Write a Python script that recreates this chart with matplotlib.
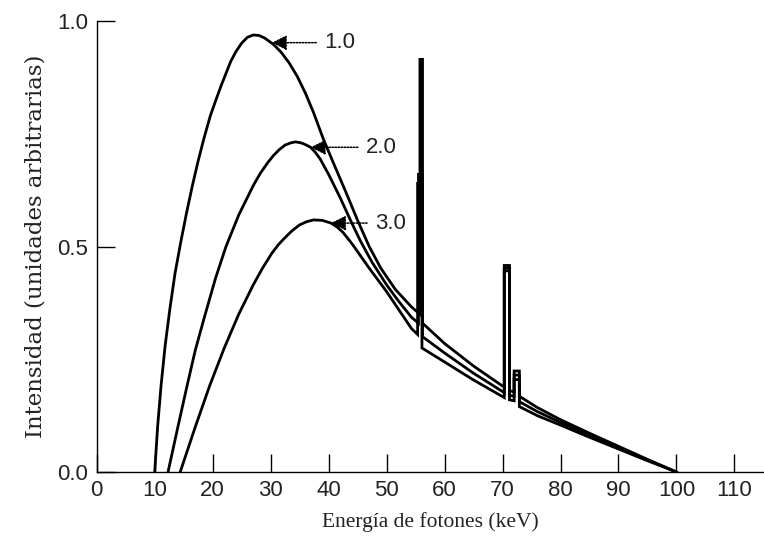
import matplotlib.pyplot as plt

# X-ray spectra (100 kVp) for three aluminium filtrations, with the K lines
energy_1 = [10.0, 10.5, 11.1, 11.8, 12.6, 13.5, 14.5, 15.5, 16.5, 17.5, 18.5, 19.6,
            20.7, 21.5, 22.3, 23.1, 24.0, 25.0, 26.0, 27.0, 28.0, 29.0, 30.5,
            31.8, 33.2, 34.6, 36.0, 37.4, 39.1, 41.0, 43.0, 45.0, 47.0, 49.0,
            51.5, 54.3,
            55.75, 55.75, 56.2, 56.2, 60.0, 65.0,
            70.3, 70.3, 71.2, 71.2, 72.0, 72.0, 72.9, 72.9,
            76.0, 80.0, 85.0, 90.0, 95.0, 100.0]
inten_1 = [0.0, 0.100, 0.192, 0.280, 0.360, 0.440, 0.510, 0.575, 0.635, 0.690, 0.740, 0.790,
           0.830, 0.858, 0.884, 0.910, 0.932, 0.951, 0.964, 0.969, 0.968, 0.962, 0.948,
           0.931, 0.907, 0.877, 0.840, 0.797, 0.738, 0.680, 0.620, 0.558, 0.500, 0.452,
           0.405, 0.366,
           0.350, 0.915, 0.915, 0.330, 0.285, 0.235,
           0.188, 0.458, 0.458, 0.180, 0.178, 0.224, 0.224, 0.168,
           0.143, 0.116, 0.086, 0.057, 0.028, 0.0]

energy_2 = [12.3, 14.0, 15.6, 17.0, 18.5, 20.5, 22.3, 24.5, 27.0, 28.2, 29.5, 30.5,
            31.5, 32.5, 33.5, 34.3, 35.2, 36.0, 36.9, 37.7, 38.5, 40.0, 42.0, 44.0,
            45.5, 47.5, 50.0, 52.0, 54.3,
            55.5, 55.5, 56.2, 56.2, 60.0, 65.0,
            70.3, 70.3, 71.2, 71.2, 72.0, 72.0, 72.9, 72.9,
            76.0, 80.0, 85.0, 90.0, 95.0, 100.0]
inten_2 = [0.0, 0.100, 0.192, 0.270, 0.340, 0.430, 0.500, 0.570, 0.635, 0.662, 0.686, 0.702,
           0.715, 0.725, 0.730, 0.732, 0.730, 0.726, 0.720, 0.709, 0.695, 0.660, 0.608, 0.552,
           0.512, 0.465, 0.415, 0.380, 0.343,
           0.330, 0.660, 0.660, 0.300, 0.264, 0.219,
           0.176, 0.452, 0.452, 0.170, 0.168, 0.215, 0.215, 0.156,
           0.134, 0.110, 0.082, 0.054, 0.027, 0.0]

energy_3 = [14.4, 17.0, 19.5, 22.0, 24.5, 27.0, 28.6, 30.2, 31.4, 32.5, 33.7, 35.0,
            36.2, 37.4, 38.9, 40.4, 41.5, 42.5, 44.1, 47.0, 50.0, 54.3,
            55.35, 55.35, 56.1, 56.1, 60.0, 65.0,
            70.3, 70.3, 71.2, 71.2, 72.0, 72.0, 72.9, 72.9,
            76.0, 80.0, 85.0, 90.0, 95.0, 100.0]
inten_3 = [0.0, 0.100, 0.192, 0.275, 0.350, 0.415, 0.452, 0.485, 0.505, 0.520, 0.535, 0.548,
           0.555, 0.559, 0.558, 0.552, 0.543, 0.531, 0.505, 0.452, 0.400, 0.318,
           0.305, 0.640, 0.640, 0.275, 0.244, 0.204,
           0.165, 0.446, 0.446, 0.160, 0.158, 0.205, 0.205, 0.145,
           0.125, 0.104, 0.077, 0.051, 0.025, 0.0]

# filtration labels and the point of each curve they point at
filt_labels = ['1.0', '2.0', '3.0']
label_e = [30.2, 36.9, 40.4]
label_i = [0.952, 0.720, 0.552]
label_dx = [38, 40, 32]

x_ticks = [0, 10, 20, 30, 40, 50, 60, 70, 80, 90, 100, 110]
y_ticks = [0.0, 0.5, 1.0]

fig = plt.figure(figsize=(7.64, 5.46), dpi=100)
ax = fig.add_axes([0.1266, 0.1355, 0.8734, 0.826])

for e, i in zip([energy_1, energy_2, energy_3], [inten_1, inten_2, inten_3]):
    ax.plot(e, i, color='black', lw=2.0, solid_joinstyle='miter')

for lab, e, i, dx in zip(filt_labels, label_e, label_i, label_dx):
    ax.annotate(lab, xy=(e, i), xytext=(dx, 0), textcoords='offset points',
                ha='left', va='center', fontsize=16, family='Liberation Sans',
                color='#222222',
                arrowprops=dict(arrowstyle='-|>,head_length=0.6,head_width=0.3',
                                linestyle=(0, (1, 1)), lw=1.1, color='black',
                                shrinkA=4, shrinkB=0, mutation_scale=15))

ax.set_xlim(0, 115.1)
ax.set_ylim(0, 1.0)
ax.set_xticks(x_ticks)
ax.set_yticks(y_ticks)
ax.set_yticklabels([f'{v:.1f}' for v in y_ticks])
ax.tick_params(direction='in', length=13, width=1.0, labelsize=16,
               labelcolor='#222222')
ax.tick_params(axis='x', pad=6)
ax.tick_params(axis='y', pad=6)
for lbl in ax.get_xticklabels() + ax.get_yticklabels():
    lbl.set_family('Liberation Sans')

ax.spines['top'].set_visible(False)
ax.spines['right'].set_visible(False)
ax.spines['left'].set_linewidth(1.0)
ax.spines['bottom'].set_linewidth(1.0)

ax.set_xlabel('Energía de fotones (keV)', family='Liberation Serif',
              fontsize=15.5, labelpad=8, color='#222222')
ax.set_ylabel('Intensidad (unidades arbitrarias)', family='DejaVu Serif',
              fontsize=16.5, labelpad=8, color='#222222')

fig.savefig('out.png', dpi=100)
